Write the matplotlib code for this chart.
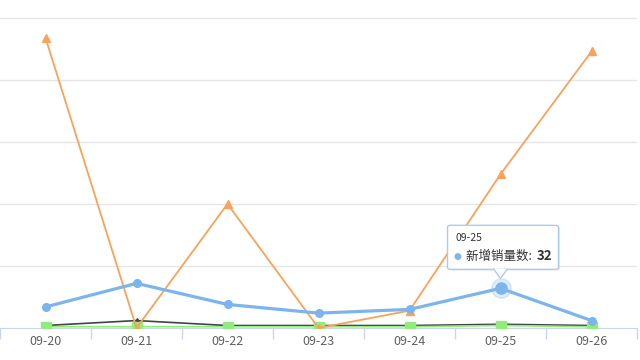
import numpy as np
import matplotlib
matplotlib.use('Agg')
import matplotlib.pyplot as plt
from matplotlib.patches import FancyBboxPatch, Polygon

plt.rcParams['font.family'] = ['Noto Sans CJK SC', 'DejaVu Sans']

# data
dates = ['09-20', '09-21', '09-22', '09-23', '09-24', '09-25', '09-26']
new_sales = [17, 36, 19, 12, 15, 32, 6]        # blue, 新增销量数
series_black = [2, 6, 2, 2, 2, 3, 2]
series_green = [1, 1, 1, 1, 1, 2, 1]
series_orange = [234, 0, 100, 0, 14, 124, 223]
hover_idx = 5

fig = plt.figure(figsize=(6.4, 3.6), dpi=100)
ax = fig.add_axes([0, 1 - 328 / 360, 637 / 640, 328 / 360])
x = np.arange(len(dates))

ax.plot(x, new_sales, color='#7cb5ec', lw=2.3, marker='o', ms=5.5, zorder=4)
ax.plot(x, series_black, color='#434348', lw=1.2, marker='^', ms=4, zorder=3)
ax.plot(x, series_green, color='#90ed7d', lw=1.2, marker='s', ms=6.5, zorder=3)
ax.plot(x, series_orange, color='#f7a35c', lw=1.3, marker='^', ms=5.5, zorder=3)

# hovered point with halo
ax.plot(x[hover_idx], new_sales[hover_idx], 'o', color='#7cb5ec', ms=14, alpha=0.25, zorder=5)
ax.plot(x[hover_idx], new_sales[hover_idx], 'o', color='#7cb5ec', ms=8, zorder=6)

ax.set_xlim(-0.5, len(dates) - 0.5)
ax.set_ylim(0, 264.5)
ax.set_yticks(np.arange(50, 251, 50))
ax.yaxis.grid(True, color='#e6e6e6', lw=1)
ax.set_axisbelow(True)
ax.tick_params(axis='y', left=False, labelleft=False)
ax.set_xticks(x)
ax.set_xticklabels(dates, fontsize=9, color='#606060')
ax.set_xticks(np.arange(-0.5, len(dates)), minor=True)
ax.tick_params(axis='x', which='major', length=0, pad=5)
ax.tick_params(axis='x', which='minor', length=8, color='#ccd6eb', width=1)
for s in ['top', 'right', 'left']:
    ax.spines[s].set_visible(False)
ax.spines['bottom'].set_color('#ccd6eb')

# tooltip
fig.canvas.draw()
px, py = ax.transData.transform((x[hover_idx], new_sales[hover_idx]))
W, H = 640, 360
bx0, by0, bw, bh = px - 53, py + 19, 111, 44
shadow = FancyBboxPatch(((bx0 + 1.5) / W, (by0 - 1.5) / H), bw / W, bh / H,
                        boxstyle='round,pad=0,rounding_size=0.005',
                        transform=fig.transFigure, facecolor='#000000',
                        edgecolor='none', alpha=0.08, zorder=9)
fig.add_artist(shadow)
box = FancyBboxPatch((bx0 / W, by0 / H), bw / W, bh / H,
                     boxstyle='round,pad=0,rounding_size=0.005',
                     transform=fig.transFigure, facecolor='white',
                     edgecolor='#a8cdef', lw=1, zorder=10)
fig.add_artist(box)
tip = Polygon([((px - 7) / W, (by0 + 0.5) / H), (px / W, (py + 10) / H), ((px + 7) / W, (by0 + 0.5) / H)],
              closed=False, transform=fig.transFigure, facecolor='white',
              edgecolor='#a8cdef', lw=1, zorder=11)
fig.add_artist(tip)
fig.text((bx0 + 8) / W, (by0 + 31) / H, dates[hover_idx], fontsize=7.5, color='#333333',
         va='center', zorder=12)
fig.text((bx0 + 6) / W, (by0 + 13) / H, '●', fontsize=6.5, color='#7cb5ec',
         va='center', zorder=12, family=['DejaVu Sans'])
fig.text((bx0 + 18) / W, (by0 + 13) / H, '新增销量数: ', fontsize=9, color='#333333',
         va='center', zorder=12)
fig.text((bx0 + 89) / W, (by0 + 13) / H, str(new_sales[hover_idx]), fontsize=9.5,
         fontweight='bold', color='#333333', va='center', zorder=12)

fig.savefig('out.png', dpi=100)
